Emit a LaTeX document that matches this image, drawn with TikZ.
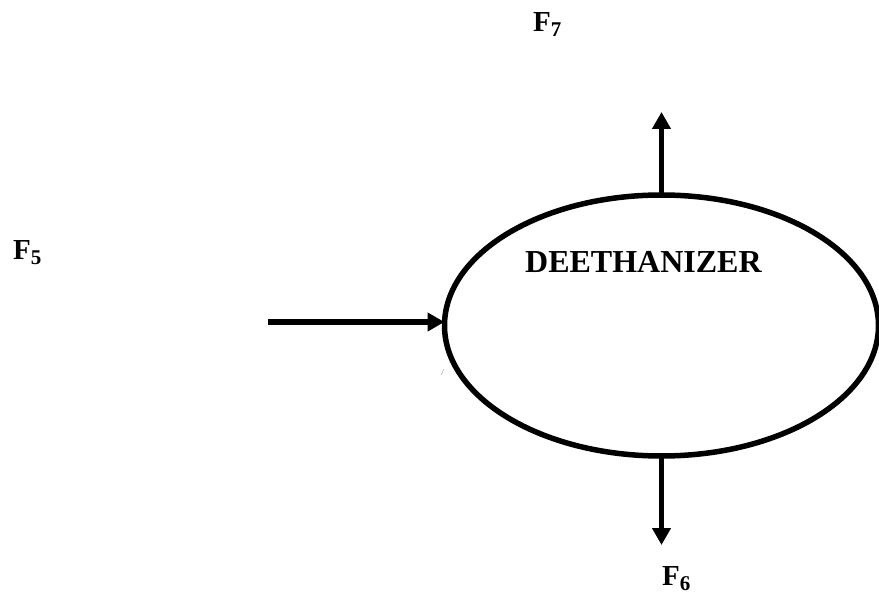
\documentclass[tikz,border=0pt]{standalone}
\usepackage{fontspec}
\setmainfont{Liberation Serif}
\usetikzlibrary{arrows.meta,shapes.geometric}
\tikzset{
  flow/.style={line width=5.5pt, -{Triangle[length=17pt,width=18pt]}},
  lbl/.style={anchor=base west, inner sep=0pt, font=\fontsize{29}{29}\selectfont\bfseries},
  unit/.style={draw, ellipse, line width=5.5pt, inner sep=0pt, outer sep=0pt,
    minimum width=434pt, minimum height=261pt}
}
\newcommand{\stream}[1]{F\raisebox{-5pt}{\fontsize{21}{21}\selectfont\bfseries #1}}
\begin{document}
\begin{tikzpicture}[x=1pt,y=-1pt]
\useasboundingbox (0,0) rectangle (879,596);
\clip (0,0) rectangle (879,596);
\node[unit] (col) at (661.5,325.5) {};
\node[anchor=base west, inner sep=0pt, font=\fontsize{32}{32}\selectfont\bfseries] (name) at (525,273) {DEETHANIZER};
\coordinate (feed) at (268,322);
\coordinate (top) at (661.5,112);
\coordinate (bot) at (661.5,545);
\draw[flow] (feed) -- (feed -| col.west);
\draw[flow] (col.north) -- (top);
\draw[flow] (col.south) -- (bot);
\node[lbl] (f5) at (13,260) {\stream{5}};
\node[lbl] (f7) at (533,32) {\stream{7}};
\node[lbl] (f6) at (662,585) {\stream{6}};
\draw[gray!60, line width=0.6pt] (441,375) -- (444,369);
\end{tikzpicture}
\end{document}
